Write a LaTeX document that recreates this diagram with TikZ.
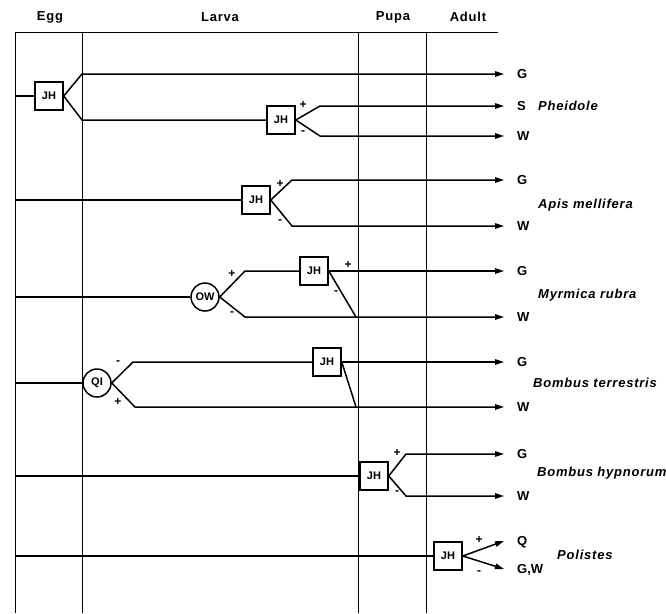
\documentclass[tikz,border=0pt]{standalone}
\usepackage{fontspec}
\setmainfont{Liberation Sans}
\usetikzlibrary{arrows.meta}
\begin{document}
\begin{tikzpicture}[x=1pt,y=-1pt,
  frame/.style={line width=1pt},
  flow/.style={line width=1.5pt},
  arr/.style={flow,-{Triangle[length=9pt,width=5.5pt]}},
  jh/.style={draw,flow,fill=white,minimum width=28pt,minimum height=28pt,inner sep=0pt,font=\fontsize{11}{11}\selectfont\bfseries},
  circ/.style={draw,flow,fill=white,circle,minimum size=28pt,inner sep=0pt,font=\fontsize{11}{11}\selectfont\bfseries},
  hdr/.style={font=\fontsize{13}{13}\selectfont\bfseries\addfontfeature{LetterSpace=6}},
  lab/.style={anchor=west,inner sep=0pt,text height=9.3pt,text depth=0pt,font=\fontsize{13}{13}\selectfont\bfseries},
  spec/.style={anchor=west,inner sep=0pt,text height=9.3pt,text depth=0pt,font=\fontsize{13}{13}\selectfont\bfseries\itshape\addfontfeature{LetterSpace=6}},
  sgn/.style={inner sep=0pt,font=\fontsize{12}{12}\selectfont\bfseries}]
\useasboundingbox (0,0) rectangle (666,613);
% frame
\coordinate (tl) at (15,32); \coordinate (tr) at (498,32); \coordinate (bl) at (15,613);
\coordinate (d1t) at (82,32);  \coordinate (d1b) at (82,613);
\coordinate (d2t) at (358,32); \coordinate (d2b) at (358,613);
\coordinate (d3t) at (426,32); \coordinate (d3b) at (426,613);
\draw[frame] (tr) -- (tl) -- (bl);
\draw[frame] (d1t) -- (d1b);
\draw[frame] (d2t) -- (d2b);
\draw[frame] (d3t) -- (d3b);
% headers
\node[hdr] (hEgg) at (50,17) {Egg};
\node[hdr] (hLarva) at (220,17) {Larva};
\node[hdr] (hPupa) at (393,17) {Pupa};
\node[hdr] (hAdult) at (468,17) {Adult};
% labels
\node[lab] (G1) at (517,74) {G};
\node[lab] (S1) at (517,106) {S};
\node[lab] (W1) at (517,136) {W};
\node[spec] (sp1) at (538,106) {Pheidole};
\node[lab] (G2) at (517,180) {G};
\node[lab] (W2) at (517,226) {W};
\node[spec] (sp2) at (538,204) {Apis mellifera};
\node[lab] (G3) at (517,271) {G};
\node[lab] (W3) at (517,317) {W};
\node[spec] (sp3) at (538,294) {Myrmica rubra};
\node[lab] (G4) at (517,362) {G};
\node[lab] (W4) at (517,407) {W};
\node[spec] (sp4) at (533,383) {Bombus terrestris};
\node[lab] (G5) at (517,454) {G};
\node[lab] (W5) at (517,496) {W};
\node[spec] (sp5) at (537,472) {Bombus hypnorum};
\node[lab] (Q6) at (517,541) {Q};
\node[lab] (GW6) at (517,569) {G,W};
\node[spec] (sp6) at (557,555) {Polistes};
% row 1 Pheidole
\coordinate (r1s) at (15,96);
\node[jh] (jh1) at (49,96) {JH};
\coordinate (r1u) at (82,74); \coordinate (r1d) at (82,120);
\node[jh] (jh2) at (281,120) {JH};
\coordinate (r1su) at (320,106); \coordinate (r1sd) at (320,136);
\draw[flow] (r1s) -- (jh1);
\draw[arr] (jh1.east) -- (r1u) -- ([xshift=-13pt]G1.west);
\draw[flow] (jh1.east) -- (r1d) -- (jh2);
\draw[arr] (jh2.east) -- (r1su) -- ([xshift=-13pt]S1.west);
\draw[arr] (jh2.east) -- (r1sd) -- ([xshift=-13pt]W1.west);
\node[sgn] at (303,105) {+}; \node[sgn] at (303,133) {-};
% row 2 Apis
\coordinate (r2s) at (15,200);
\node[jh] (jh3) at (256,200) {JH};
\coordinate (r2u) at (292,180); \coordinate (r2d) at (292,226);
\draw[flow] (r2s) -- (jh3);
\draw[arr] (jh3.east) -- (r2u) -- ([xshift=-13pt]G2.west);
\draw[arr] (jh3.east) -- (r2d) -- ([xshift=-13pt]W2.west);
\node[sgn] at (280,184) {+}; \node[sgn] at (280,222) {-};
% row 3 Myrmica
\coordinate (r3s) at (15,297);
\node[circ] (ow) at (205,297) {OW};
\coordinate (r3u) at (245,271); \coordinate (r3d) at (245,317);
\node[jh] (jh4) at (314,271) {JH};
\coordinate (r3m) at (356,317);
\draw[flow] (r3s) -- (ow);
\draw[flow] (ow.east) -- (r3u) -- (jh4);
\draw[arr] (jh4.east) -- ([xshift=-13pt]G3.west);
\draw[flow] (jh4.east) -- (r3m);
\draw[arr] (ow.east) -- (r3d) -- ([xshift=-13pt]W3.west);
\node[sgn] at (232,274) {+}; \node[sgn] at (232,314) {-};
\node[sgn] at (348,265) {+}; \node[sgn] at (336,293) {-};
% row 4 Bombus terrestris
\coordinate (r4s) at (15,383);
\node[circ] (qi) at (97,383) {QI};
\coordinate (r4u) at (133,362); \coordinate (r4d) at (135,407);
\node[jh] (jh5) at (327,362) {JH};
\coordinate (r4m) at (356,407);
\draw[flow] (r4s) -- (qi);
\draw[flow] (qi.east) -- (r4u) -- (jh5);
\draw[arr] (jh5.east) -- ([xshift=-13pt]G4.west);
\draw[flow] (jh5.east) -- (r4m);
\draw[arr] (qi.east) -- (r4d) -- ([xshift=-13pt]W4.west);
\node[sgn] at (118,363) {-}; \node[sgn] at (118,402) {+};
% row 5 Bombus hypnorum
\coordinate (r5s) at (15,476);
\node[jh] (jh6) at (374,476) {JH};
\coordinate (r5u) at (406,454); \coordinate (r5d) at (406,496);
\draw[flow] (r5s) -- (jh6);
\draw[arr] (jh6.east) -- (r5u) -- ([xshift=-13pt]G5.west);
\draw[arr] (jh6.east) -- (r5d) -- ([xshift=-13pt]W5.west);
\node[sgn] at (397,453) {+}; \node[sgn] at (397,493) {-};
% row 6 Polistes
\coordinate (r6s) at (15,556);
\node[jh] (jh7) at (448,556) {JH};
\draw[flow] (r6s) -- (jh7);
\draw[arr] (jh7.east) -- ([xshift=-13pt]Q6.west);
\draw[arr] (jh7.east) -- ([xshift=-13pt]GW6.west);
\node[sgn] at (479,540) {+}; \node[sgn] at (479,573) {-};
\end{tikzpicture}
\end{document}
